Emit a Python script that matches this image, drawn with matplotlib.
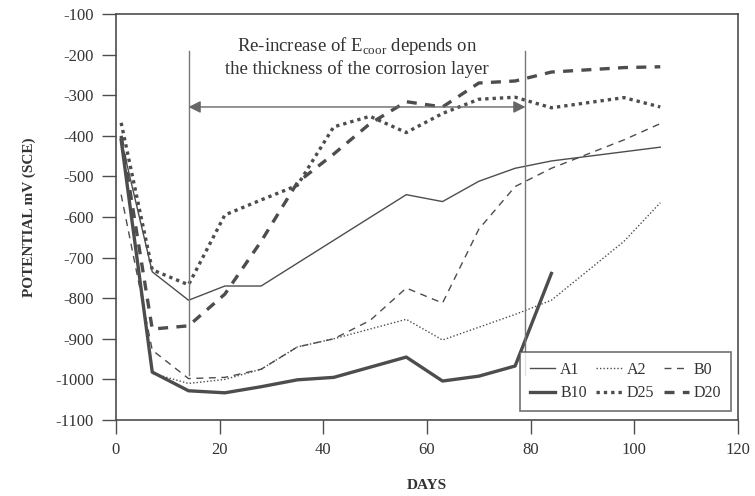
import matplotlib
matplotlib.use("Agg")
import matplotlib.pyplot as plt

# data (days, potential mV vs SCE)
a1_days = [1, 7, 14, 21, 28, 56, 63, 70, 77, 84, 105]
a1_mv = [-410, -735, -805, -770, -770, -545, -562, -512, -480, -462, -428]

a2_days = [1, 7, 14, 21, 28, 35, 42, 56, 63, 77, 84, 98, 105]
a2_mv = [-410, -985, -1010, -1000, -975, -920, -900, -852, -903, -840, -805, -660, -565]

b0_days = [1, 7, 14, 21, 28, 35, 42, 49, 56, 63, 70, 77, 84, 98, 105]
b0_mv = [-545, -928, -998, -995, -975, -920, -900, -855, -775, -812, -630, -525, -480, -410, -370]

b10_days = [1, 7, 14, 21, 28, 35, 42, 56, 63, 70, 77, 84]
b10_mv = [-410, -982, -1028, -1033, -1018, -1001, -995, -945, -1004, -992, -967, -739]

d25_days = [1, 7, 14, 21, 28, 35, 42, 49, 56, 63, 70, 77, 84, 98, 105]
d25_mv = [-368, -730, -767, -595, -558, -522, -378, -352, -392, -345, -310, -305, -331, -306, -329]

d20_days = [1, 7, 14, 21, 28, 35, 42, 49, 56, 63, 70, 77, 84, 98, 105]
d20_mv = [-400, -876, -868, -790, -660, -515, -445, -370, -316, -329, -270, -265, -243, -232, -230]

marker_days = [14, 79]
arrow_mv = -329

GREY = "#4d4d4d"
SERIF = ["Liberation Serif", "DejaVu Serif"]
plt.rcParams["font.family"] = SERIF
plt.rcParams["axes.unicode_minus"] = False
plt.rcParams["mathtext.fontset"] = "custom"
plt.rcParams["mathtext.rm"] = "Liberation Serif"

fig = plt.figure(figsize=(7.55, 4.96), dpi=100)
ax = fig.add_axes([0.1536, 0.1532, 0.8239, 0.8186])

h_a1, = ax.plot(a1_days, a1_mv, color=GREY, lw=1.0, ls="-", label="A1")
h_a2, = ax.plot(a2_days, a2_mv, color=GREY, lw=1.0, ls=(0, (1, 1.5)), label="A2")
h_b0, = ax.plot(b0_days, b0_mv, color=GREY, lw=1.0, ls=(0, (5, 4)), label="B0")
h_b10, = ax.plot(b10_days, b10_mv, color=GREY, lw=2.4, ls="-", label="B10")
h_d25, = ax.plot(d25_days, d25_mv, color=GREY, lw=2.4, ls=(0, (1, 1.2)), label="D25")
h_d20, = ax.plot(d20_days, d20_mv, color=GREY, lw=2.4, ls=(0, (3, 2.5)), label="D20")

# vertical markers and double arrow
for d in marker_days:
    ax.plot([d, d], [-988, -190], color="#777777", lw=1.0)
ax.annotate("", xy=(marker_days[0], arrow_mv), xytext=(marker_days[1], arrow_mv),
            arrowprops=dict(arrowstyle="<|-|>", color="#666666", lw=1.0,
                            mutation_scale=18, shrinkA=0, shrinkB=0))
ax.text(46.5, -205, "Re-increase of E$_{\\mathrm{coor}}$ depends on\nthe thickness of the corrosion layer",
        ha="center", va="center", fontsize=13.5, color="#333333", linespacing=1.25)

ax.set_xlim(0, 120)
ax.set_ylim(-1100, -100)
ax.set_xticks(range(0, 121, 20))
ax.set_yticks(range(-1100, -99, 100))
ax.tick_params(direction="out", length=10, width=1.0, color=GREY,
               labelsize=12, labelcolor="#333333", pad=6)
for s in ax.spines.values():
    s.set_color(GREY)
    s.set_linewidth(1.2)

ax.set_xlabel("DAYS", fontsize=11, fontweight="bold", color="#333333")
ax.xaxis.set_label_coords(0.5, -0.145)
ax.set_ylabel("POTENTIAL mV (SCE)", fontsize=11, fontweight="bold", color="#333333", labelpad=14)

# legend is filled column-wise, so interleave to get rows A1 A2 B0 / B10 D25 D20
handles = [h_a1, h_b10, h_a2, h_d25, h_b0, h_d20]
leg = ax.legend(handles=handles, labels=[h.get_label() for h in handles],
                loc="lower right", ncol=3, fontsize=11.5, handlelength=1.6,
                handletextpad=0.3, columnspacing=0.6, frameon=True, fancybox=False,
                borderpad=0.6, borderaxespad=0, bbox_to_anchor=(0.989, 0.022))
leg.get_frame().set_edgecolor(GREY)
leg.get_frame().set_linewidth(1.2)
for t in leg.get_texts():
    t.set_color("#333333")

fig.savefig("out.png", dpi=100)
